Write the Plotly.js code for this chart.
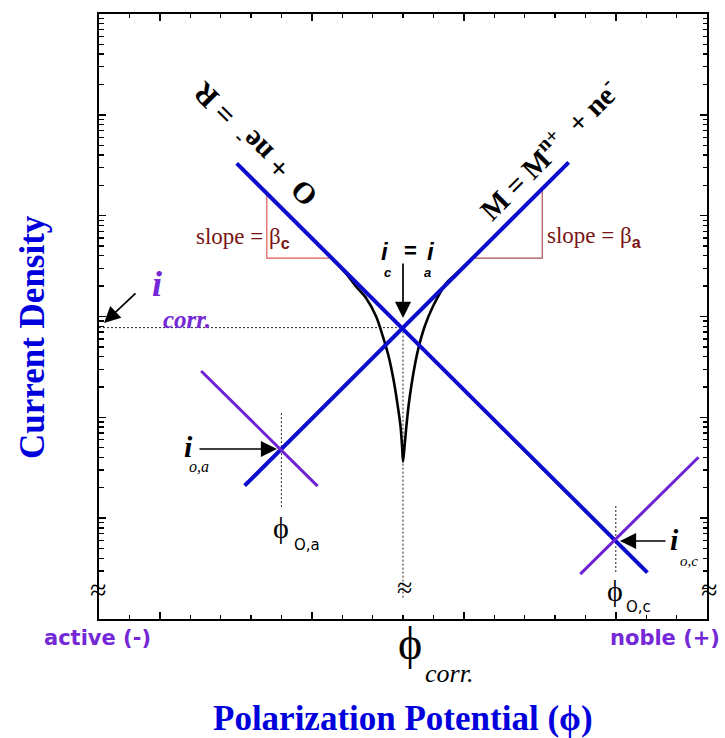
<!DOCTYPE html>
<html>
<head>
<meta charset="utf-8">
<script src="https://cdn.plot.ly/plotly-3.0.1.min.js"></script>
<style>
  html, body { margin: 0; padding: 0; background: #fff; }
  #chart { width: 725px; height: 738px; }
</style>
</head>
<body>
<div id="chart"></div>
<script>
// Evans diagram of a corroding metal: Tafel lines of the metal and redox couples.
// Potential on x (arbitrary units), current density on a log y axis.

// mixed (corrosion) point
const phiCorr = 10;
const iCorr = 776;

// exchange points of each couple
const phiOa = 6;      const iOa = 48.5;
const phiOc = 17;     const iOc = 6.07;

// O + ne- = R : cathodic Tafel line
const phiRedox = [4.53, 18.04];
const iRedox   = [33000, 2.88];
// M = M^n+ + ne- : anodic Tafel line
const phiMetal = [4.79, 15.45];
const iMetal   = [21.0, 33800];
// reverse branch of the metal couple through phi_o,a
const phiMetalBack = [3.36, 7.19];
const iMetalBack   = [288, 20.8];
// reverse branch of the redox couple through phi_o,c
const phiRedoxBack = [15.83, 19.72];
const iRedoxBack   = [2.79, 40.2];

// measured (net) polarization curve
const phiNet = [7.64, 8.10, 8.46, 8.79, 9.12, 9.34, 9.53, 9.69, 9.83, 9.92, 9.97, 10.00,
                10.05, 10.11, 10.18, 10.27, 10.38, 10.52, 10.71, 10.98, 11.42, 11.69, 12.30];
const iNet   = [3802, 2723, 1977, 1517, 995, 631, 399, 234, 128, 80.7, 51.2, 36.3,
                51.2, 80.7, 128, 201, 318, 502, 792, 1250, 2133, 2553, 3802];

// slope triangles under the two Tafel lines
const slopeCPhi = [5.52, 5.52, 7.66];
const slopeCI   = [16600, 3800, 3800];
const slopeAPhi = [12.30, 14.58, 14.58];
const slopeAI   = [3800, 3800, 18450];

// guide-line extents
const corrGuidePhi = [0, phiCorr, phiCorr];
const corrGuideI   = [iCorr, iCorr, 1.6];
const oaGuideI = [110, 12.9];
const ocGuideI = [13.2, 2.86];

const BLUE = '#0c0cd0';
const PURPLE = '#6e22d4';
const TXT_PURPLE = '#7428d6';
const SERIF = 'Liberation Serif, Times New Roman, serif';
const SANS = 'DejaVu Sans, Verdana, sans-serif';
const ARIAL = 'Liberation Sans, Arial, sans-serif';

const dotted = {color: '#222', width: 1, dash: '2px,2px'};

const traces = [
  {x: corrGuidePhi, y: corrGuideI, mode: 'lines', line: dotted},
  {x: [phiOa, phiOa], y: oaGuideI, mode: 'lines', line: dotted},
  {x: [phiOc, phiOc], y: ocGuideI, mode: 'lines', line: dotted},
  {x: slopeCPhi, y: slopeCI, mode: 'lines', line: {color: '#e05a5a', width: 1.2}},
  {x: slopeAPhi, y: slopeAI, mode: 'lines', line: {color: '#a85050', width: 1.2}},
  {x: phiNet, y: iNet, mode: 'lines', line: {color: '#000', width: 2.6, shape: 'spline', smoothing: 0.8}},
  {x: phiRedox, y: iRedox, mode: 'lines', line: {color: BLUE, width: 4}},
  {x: phiMetal, y: iMetal, mode: 'lines', line: {color: BLUE, width: 4}},
  {x: phiMetalBack, y: iMetalBack, mode: 'lines', line: {color: PURPLE, width: 3}},
  {x: phiRedoxBack, y: iRedoxBack, mode: 'lines', line: {color: PURPLE, width: 3}}
];

// plot area in pixels: x 99..707, y 14..619
const PL = 99, PR = 707, PT = 14, PB = 619;
const X = px => (px - PL) / (PR - PL);
const Y = py => (PB - py) / (PB - PT);

function txt(text, px, py, size, opts) {
  return Object.assign({
    text: text, xref: 'paper', yref: 'paper', x: X(px), y: Y(py),
    xanchor: 'center', yanchor: 'middle', showarrow: false,
    font: {family: SERIF, size: size, color: '#000'}
  }, opts || {});
}
function arrow(px, py, ax, ay) {
  return {
    text: '', xref: 'paper', yref: 'paper', x: X(px), y: Y(py),
    ax: ax, ay: ay, showarrow: true, arrowhead: 2, arrowsize: 1.9,
    arrowwidth: 1.7, arrowcolor: '#000', standoff: 0
  };
}

const subC = '<sub><span style="font-family:Liberation Sans, Arial;font-weight:bold">c</span></sub>';
const subA = '<sub><span style="font-family:Liberation Sans, Arial;font-weight:bold">a</span></sub>';
const PHI = 'ϕ';

const annotations = [
  txt('<b>O  + ne<sup>-</sup>  = R</b>', 253, 146, 30, {textangle: -135}),
  txt('<b>M = M<sup>n+</sup>  + ne<sup>-</sup></b>', 548, 149, 29, {textangle: -45}),

  txt('slope = β' + subC, 194, 238, 23, {xanchor: 'left', font: {family: SERIF, size: 23, color: '#7a1414'}}),
  txt('slope = β' + subA, 545, 237, 23, {xanchor: 'left', font: {family: SERIF, size: 23, color: '#7a1414'}}),

  txt('<b><i>i</i></b>', 157, 284, 36, {font: {family: SERIF, size: 36, color: TXT_PURPLE}}),
  txt('<b><i>corr.</i></b>', 187, 319, 25, {font: {family: SERIF, size: 25, color: TXT_PURPLE}}),

  txt('<b><i>i</i></b>', 385, 251, 24, {font: {family: ARIAL, size: 24, color: '#000'}}),
  txt('<b>=</b>', 410, 250, 22, {font: {family: ARIAL, size: 22, color: '#000'}}),
  txt('<b><i>i</i></b>', 431, 251, 24, {font: {family: ARIAL, size: 24, color: '#000'}}),
  txt('<b><i>c</i></b>', 388, 272, 13, {font: {family: ARIAL, size: 13, color: '#000'}}),
  txt('<b><i>a</i></b>', 428, 272, 13, {font: {family: ARIAL, size: 13, color: '#000'}}),

  txt('<b><i>i</i></b>', 188, 446, 30),
  txt('<i>o,a</i>', 199, 466, 16),
  txt('<b><i>i</i></b>', 674, 539, 30),
  txt('<i>o,c</i>', 689, 561, 15),

  txt(PHI, 281, 527, 30),
  txt('O,a', 307, 545, 15, {font: {family: SANS, size: 15, color: '#000'}}),
  txt(PHI, 615, 590, 30),
  txt('O,c', 638, 607, 15, {font: {family: SANS, size: 15, color: '#000'}}),

  txt('≈', 98, 589, 30),
  txt('≈', 404, 587, 28),
  txt('≈', 709, 589, 30),

  txt('<b>active (-)</b>', 97, 638, 21, {font: {family: SANS, size: 21, color: TXT_PURPLE}}),
  txt('<b>noble (+)</b>', 665, 638, 21, {font: {family: SANS, size: 21, color: TXT_PURPLE}}),

  txt(PHI, 410, 643, 46),
  txt('<i>corr.</i>', 449, 673, 26),

  txt('<b>Polarization Potential (' + PHI + ')</b>', 403, 718, 35, {font: {family: SERIF, size: 35, color: '#0000dd'}}),
  txt('<b>Current Density</b>', 32, 337, 35, {textangle: -90, font: {family: SERIF, size: 35, color: '#0000dd'}}),

  arrow(104, 323, 33, -31),
  arrow(403, 318, 0, -56),
  arrow(277, 449, -79, 0),
  arrow(620, 541, 47, 0)
];

const layout = {
  width: 725, height: 738,
  margin: {l: PL, r: 725 - PR, t: PT, b: 738 - PB, pad: 0},
  paper_bgcolor: '#fff', plot_bgcolor: '#fff',
  showlegend: false,
  xaxis: {
    range: [0, 20], showgrid: false, zeroline: false, showticklabels: false,
    showline: true, linecolor: '#000', linewidth: 2, mirror: 'allticks',
    ticks: 'inside', tick0: 2, dtick: 5, ticklen: 7, tickwidth: 1.5, tickcolor: '#000',
    minor: {ticks: 'inside', dtick: 1, tick0: 0, ticklen: 4, tickwidth: 1.3, tickcolor: '#000'}
  },
  yaxis: {
    type: 'log', range: [0, 6], showgrid: false, zeroline: false, showticklabels: false,
    showline: true, linecolor: '#000', linewidth: 2, mirror: 'allticks',
    ticks: 'inside', dtick: 1, ticklen: 7, tickwidth: 1.5, tickcolor: '#000',
    minor: {ticks: 'inside', dtick: 'D1', ticklen: 4.5, tickwidth: 1.3, tickcolor: '#000'}
  },
  annotations: annotations
};

Plotly.newPlot('chart', traces, layout, {staticPlot: true, displayModeBar: false});
</script>
</body>
</html>
